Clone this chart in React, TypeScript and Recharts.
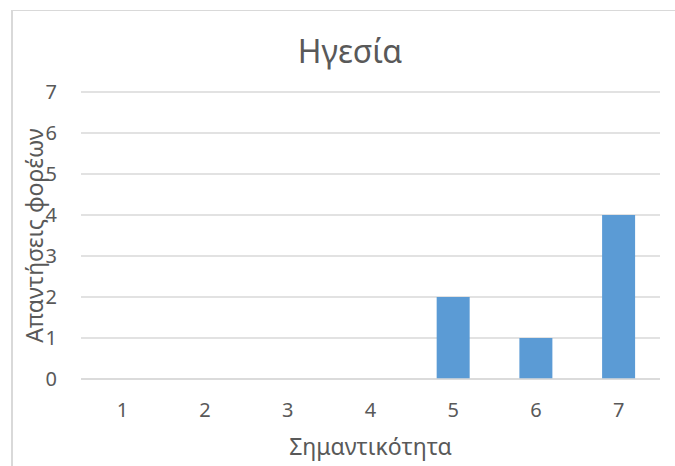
import { BarChart, Bar, XAxis, YAxis, CartesianGrid, Label } from 'recharts'

const categories = ['1', '2', '3', '4', '5', '6', '7']
const responses = [0, 0, 0, 0, 2, 1, 4]
const yTicks = [0, 1, 2, 3, 4, 5, 6, 7]

const title = 'Ηγεσία'
const xTitle = 'Σημαντικότητα'
const yTitle = 'Απαντήσεις φορέων'

const data = categories.map((c, i) => ({ name: c, value: responses[i] }))

const FONT = '"Noto Sans", sans-serif'
const TEXT = '#595959'
const GRID = '#d9d9d9'

function YTitle({ viewBox }: any) {
  const cx = 34
  const cy = viewBox.y + viewBox.height / 2
  return (
    <text
      x={cx}
      y={cy}
      transform={`rotate(-90 ${cx} ${cy})`}
      textAnchor="middle"
      dominantBaseline="central"
      fill={TEXT}
      fontSize={23}
      fontFamily={FONT}
    >
      {yTitle}
    </text>
  )
}

export default function App() {
  return (
    <div style={{ position: 'relative', width: 675, height: 466, background: '#fff' }}>
      <style>{'body{margin:0}'}</style>
      <div
        style={{
          position: 'absolute',
          left: 11,
          top: 10,
          right: -2,
          bottom: -2,
          borderTop: `1px solid ${GRID}`,
          borderLeft: `2px solid ${GRID}`,
        }}
      />
      <div
        style={{
          position: 'absolute',
          left: 250,
          width: 200,
          top: 27,
          textAlign: 'center',
          fontFamily: FONT,
          fontSize: 32,
          color: TEXT,
          lineHeight: '48px',
        }}
      >
        {title}
      </div>
      <div style={{ position: 'absolute', left: 0, top: 0 }}>
        <BarChart
          width={675}
          height={466}
          data={data}
          margin={{ top: 92, right: 15, left: 0, bottom: 0 }}
          barCategoryGap="30%"
        >
          <CartesianGrid vertical={false} stroke={GRID} strokeWidth={1.5} />
          <XAxis
            dataKey="name"
            height={87}
            tickLine={false}
            tickSize={0}
            tickMargin={24}
            axisLine={{ stroke: GRID, strokeWidth: 1.5 }}
            tick={{ fill: TEXT, fontSize: 20, fontFamily: FONT }}
          >
            <Label
              value={xTitle}
              position="insideBottom"
              offset={11}
              fill={TEXT}
              fontSize={23}
              fontFamily={FONT}
            />
          </XAxis>
          <YAxis
            width={81}
            domain={[0, 7]}
            ticks={yTicks}
            interval={0}
            tickLine={false}
            axisLine={false}
            tickSize={0}
            tickMargin={24}
            tick={{ fill: TEXT, fontSize: 20, fontFamily: FONT }}
          >
            <Label content={<YTitle />} />
          </YAxis>
          <Bar dataKey="value" fill="#5b9bd5" isAnimationActive={false} />
        </BarChart>
      </div>
    </div>
  )
}
